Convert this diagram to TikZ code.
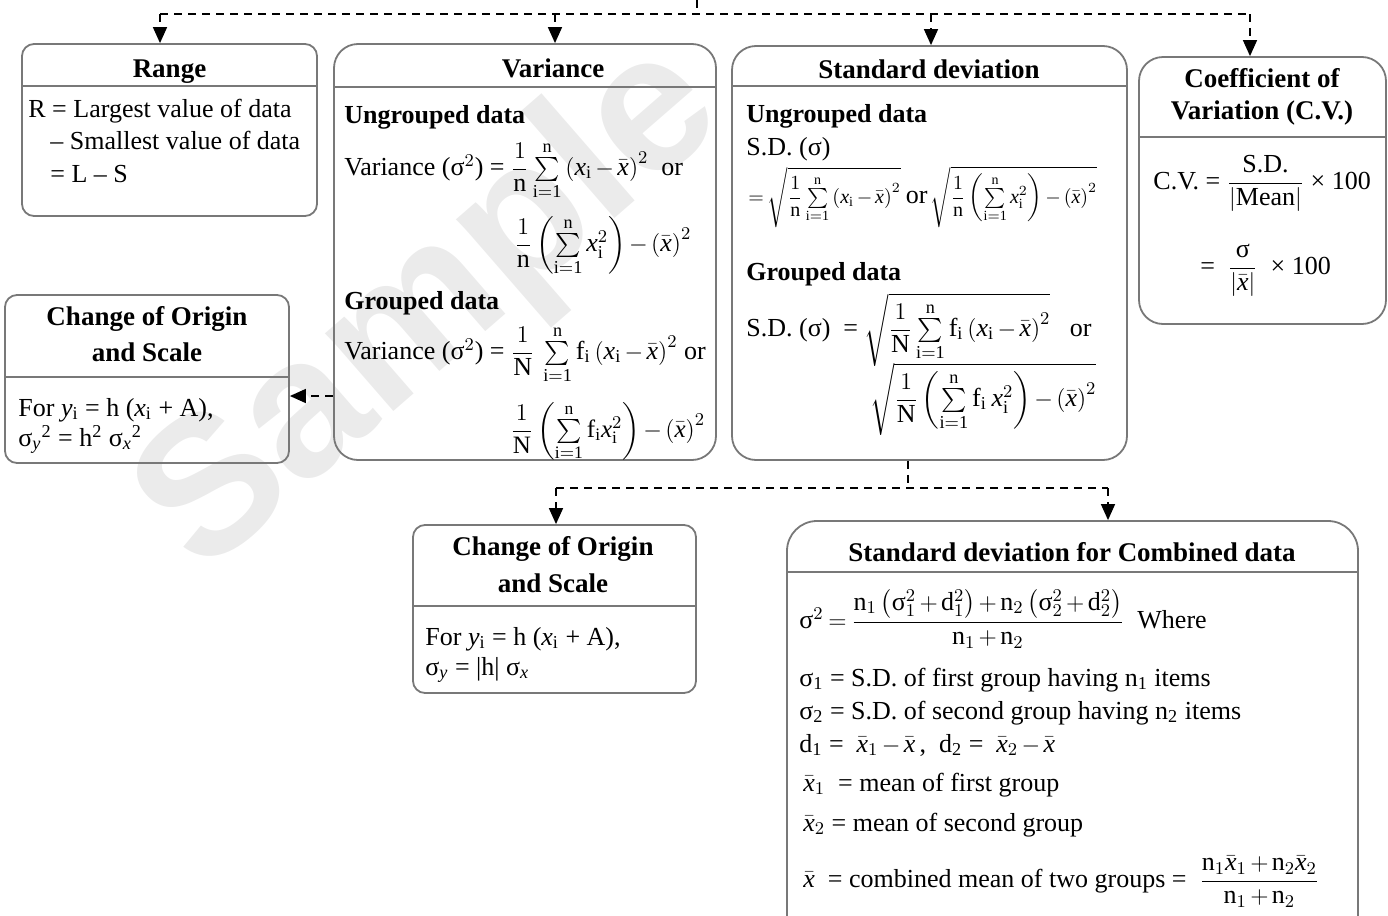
\documentclass[tikz,border=0pt]{standalone}
\usepackage{amsmath}
\usepackage{fontspec}
\setmainfont{Liberation Serif}
\newfontfamily\wmfont{Liberation Sans}
\usetikzlibrary{arrows.meta,fit}
\definecolor{boxgray}{RGB}{120,120,120}
\newcommand\vx{\mathit{x}}
\newcommand\vxb{\bar{\mathit{x}}}
\newcommand\rmn{\mathrm{n}}
\newcommand\rmN{\mathrm{N}}
\newcommand\sig{\text{σ}}
\newcommand\ione{\mathrm{i=1}}
\newcommand\smsum{\textstyle\sum\limits_{\ione}^{\rmn}}
\newcommand\tightmath{\medmuskip=2.5mu plus 1mu minus 1mu\thickmuskip=3.5mu plus 1mu}
\tikzset{
 box/.style={draw=boxgray, line width=0.9pt, inner sep=0pt},
 bigr/.style={rounded corners=12pt},
 smallr/.style={rounded corners=6pt},
 sepline/.style={draw=boxgray, line width=0.9pt},
 conn/.style={draw=black, line width=0.75pt, dash pattern=on 4pt off 3pt},
 arr/.style={conn, -{Triangle[width=7pt,length=8pt]}},
 ttl/.style={font=\bfseries\fontsize{13.5}{16}\selectfont, inner sep=0pt, anchor=base},
 txt/.style={font=\fontsize{13}{15}\selectfont\tightmath, inner sep=0pt, anchor=base west},
 hd/.style={font=\bfseries\fontsize{13}{15}\selectfont, inner sep=0pt, anchor=base west},
}
\begin{document}
\begin{tikzpicture}[x=0.5pt,y=-0.5pt]
\useasboundingbox (0,0) rectangle (1388,916);
\clip (0,0) rectangle (1388,916);
% watermark
\node[text=black!8, font=\wmfont\bfseries\fontsize{98}{98}\selectfont, rotate=41, inner sep=0pt] (wm) at (432,311) {Sample};
% boxes
\node[box,smallr,fit={(22,44)(317,216)}] (range) {};
\node[box,bigr,fit={(334,44)(716,460)}] (var) {};
\node[box,bigr,fit={(732,46)(1127,460)}] (sd) {};
\node[box,bigr,fit={(1139,57)(1386,324)}] (cv) {};
\node[box,smallr,fit={(5,295)(289,463)}] (lorig) {};
\node[box,smallr,fit={(413,525)(696,693)}] (borig) {};
\node[box,rounded corners=15pt,fit={(787,521)(1358,960)}] (comb) {};
% separators
\draw[sepline] (range.west |- 0,86) -- (range.east |- 0,86);
\draw[sepline] (var.west |- 0,87) -- (var.east |- 0,87);
\draw[sepline] (sd.west |- 0,86) -- (sd.east |- 0,86);
\draw[sepline] (cv.west |- 0,137) -- (cv.east |- 0,137);
\draw[sepline] (lorig.west |- 0,377) -- (lorig.east |- 0,377);
\draw[sepline] (borig.west |- 0,606) -- (borig.east |- 0,606);
\draw[sepline] (comb.west |- 0,572) -- (comb.east |- 0,572);
% titles
\node[ttl] (rangeT) at (169.5,77) {Range};
\node[ttl] (varT) at (553,77) {Variance};
\node[ttl] (sdT) at (929,78) {Standard deviation};
\node[ttl] (cvT1) at (1262,87) {Coefficient of};
\node[ttl] (cvT2) at (1262,119) {Variation (C.V.)};
\node[ttl] (loT1) at (147,325) {Change of Origin};
\node[ttl] (loT2) at (147,361) {and Scale};
\node[ttl] (boT1) at (553,555) {Change of Origin};
\node[ttl] (boT2) at (553,592) {and Scale};
\node[ttl] (combT) at (1072,561) {Standard deviation for Combined data};
% range body
\node[txt] (r1) at (28,117) {R = Largest value of data};
\node[txt] (r2) at (50,149) {– Smallest value of data};
\node[txt] (r3) at (50,182) {= L – S};
% variance body
\node[hd] (vh1) at (344,123) {Ungrouped data};
\node[txt] (v1) at (344,175) {Variance (σ$^{2}$) = $\dfrac{1}{\rmn}\smsum\left(\vx_{\mathrm i}-\vxb\right)^{2}$\enspace or};
\node[txt] (v2) at (514,251) {$\dfrac{1}{\rmn}\left(\smsum\vx_{\mathrm i}^{2}\right)-\left(\vxb\right)^{2}$};
\node[hd] (vh2) at (344,309) {Grouped data};
\node[txt] (v3) at (344,359) {Variance (σ$^{2}$) = $\dfrac{1}{\rmN}\;\smsum\mathrm{f}_{\mathrm i}\left(\vx_{\mathrm i}-\vxb\right)^{2}$ or};
\node[txt,font=\fontsize{12.5}{15}\selectfont\tightmath] (v4) at (510,437) {$\dfrac{1}{\rmN}\left(\smsum\mathrm{f}_{\mathrm i}\vx_{\mathrm i}^{2}\right)-\left(\vxb\right)^{2}$};
% sd body
\node[hd] (sh1) at (746,122) {Ungrouped data};
\node[txt] (s1) at (746,155) {S.D. (σ)};
\node[txt,font=\fontsize{10}{12}\selectfont\tightmath] (s2) at (748,203) {$=\sqrt{\dfrac{1}{\rmn}\smsum\left(\vx_{\mathrm i}-\vxb\right)^{2}}$ {\fontsize{13}{15}\selectfont or}\,$\sqrt{\dfrac{1}{\rmn}\left(\smsum\vx_{\mathrm i}^{2}\right)-\left(\vxb\right)^{2}}$};
\node[hd] (sh2) at (746,280) {Grouped data};
\node[txt] (s3) at (746,336) {S.D. (σ)\ \ = $\sqrt{\dfrac{1}{\rmN}\smsum\mathrm{f}_{\mathrm i}\left(\vx_{\mathrm i}-\vxb\right)^{2}}$\enspace\ or};
\node[txt] (s4) at (870,406) {$\sqrt{\dfrac{1}{\rmN}\left(\smsum\mathrm{f}_{\mathrm i}\;\vx_{\mathrm i}^{2}\right)-\left(\vxb\right)^{2}}$};
% cv body
\node[txt] (c1) at (1153,189) {C.V. = $\dfrac{\text{S.D.}}{\left|\text{Mean}\right|}$ × 100};
\node[txt] (c2) at (1200,274) {= \ $\dfrac{\sig}{\left|\vxb\right|}$ \ × 100};
% change of origin bodies
\node[txt] (lo1) at (18,416) {For \textit{y}\textsubscript{i} = h (\textit{x}\textsubscript{i} + A),};
\node[txt] (lo2) at (18,446) {σ\textsubscript{\textit{y}}\textsuperscript{2} = h\textsuperscript{2} σ\textsubscript{\textit{x}}\textsuperscript{2}};
\node[txt] (bo1) at (425,645) {For \textit{y}\textsubscript{i} = h (\textit{x}\textsubscript{i} + A),};
\node[txt] (bo2) at (425,675) {σ\textsubscript{\textit{y}} = |h| σ\textsubscript{\textit{x}}};
% combined body
\node[txt] (k1) at (799,628) {$\sig^{2} = \dfrac{\rmn_{1}\left(\sig_{1}^{2}+\mathrm{d}_{1}^{2}\right)+\rmn_{2}\left(\sig_{2}^{2}+\mathrm{d}_{2}^{2}\right)}{\rmn_{1}+\rmn_{2}}$\enspace Where};
\node[txt] (k2) at (799,686) {σ\textsubscript{1} = S.D. of first group having n\textsubscript{1} items};
\node[txt] (k3) at (799,719) {σ\textsubscript{2} = S.D. of second group having n\textsubscript{2} items};
\node[txt] (k4) at (799,752) {d\textsubscript{1} = \ $\vxb_{1}-\vxb$\,,\ \ d\textsubscript{2} = \ $\vxb_{2}-\vxb$};
\node[txt] (k5) at (803,791) {$\vxb_{1}$\ \ = mean of first group};
\node[txt] (k6) at (803,831) {$\vxb_{2}$ = mean of second group};
\node[txt] (k7) at (803,887) {$\vxb$\ \ = combined mean of two groups = \ $\dfrac{\rmn_{1}\vxb_{1}+\rmn_{2}\vxb_{2}}{\rmn_{1}+\rmn_{2}}$};
% connectors
\coordinate (topin) at (697,0);
\coordinate (tj) at (697,14);
\coordinate (tl) at (160,14);
\coordinate (tv) at (555,14);
\coordinate (ts) at (931,14);
\coordinate (tr) at (1250,14);
\draw[conn] (topin) -- (tj);
\draw[conn] (tl) -- (tr);
\draw[arr] (tl) -- (range.north -| tl);
\draw[arr] (tv) -- (var.north -| tv);
\draw[arr] (ts) -- (sd.north -| ts);
\draw[arr] (tr) -- (cv.north -| tr);
\draw[arr] (var.west |- 0,396) -- (lorig.east |- 0,396);
\coordinate (bj) at (908,488);
\coordinate (bl) at (556,488);
\coordinate (br) at (1108,488);
\draw[conn] (sd.south -| bj) -- (bj);
\draw[conn] (bl) -- (br);
\draw[arr] (bl) -- (borig.north -| bl);
\draw[arr] (br) -- (comb.north -| br);
\end{tikzpicture}
\end{document}
